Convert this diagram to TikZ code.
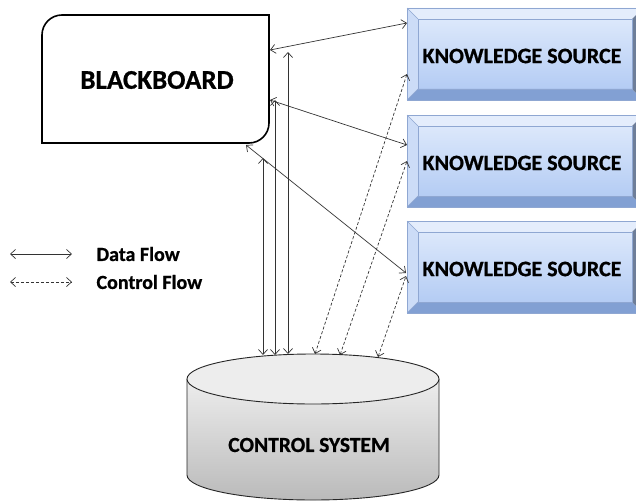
\documentclass[tikz,border=0pt]{standalone}
\usepackage{fontspec}
\setmainfont{Carlito}[BoldFeatures={FakeBold=0.8}]
\usetikzlibrary{arrows.meta}
\definecolor{ksface1}{HTML}{DCE8FB}
\definecolor{ksface2}{HTML}{B4CCF4}
\definecolor{kstopc}{HTML}{E4EDFC}
\definecolor{ksleftc}{HTML}{CCDCF7}
\definecolor{ksbotc}{HTML}{82A0D3}
\definecolor{ksrightc}{HTML}{6E7E99}
\definecolor{ksedge}{HTML}{8FA7D2}
\definecolor{flowc}{HTML}{333333}
\tikzset{
  bbshape/.style={draw=black, line width=1.6pt, fill=white},
  bbtext/.style={font=\bfseries\fontsize{27}{30}\selectfont},
  kstext/.style={font=\bfseries\fontsize{22}{26}\selectfont},
  cstext/.style={font=\bfseries\fontsize{21.5}{24}\selectfont},
  legtext/.style={font=\bfseries\fontsize{20}{24}\selectfont, anchor=west},
  dataflow/.style={draw=flowc, line width=0.7pt, {Straight Barb[length=5pt,width=9pt]}-{Straight Barb[length=5pt,width=9pt]}},
  ctrlflow/.style={dataflow, dash pattern=on 3pt off 2pt},
  cylline/.style={draw=black!85, line width=0.9pt},
}
\begin{document}
\begin{tikzpicture}[x=1pt,y=-1pt]
\useasboundingbox (0,0) rectangle (636,500);

% Blackboard
\draw[bbshape] (42,35) arc[start angle=180,end angle=270,radius=20] -- (269,15) -- (269,123)
  arc[start angle=0,end angle=90,radius=20] -- (42,143) -- cycle;
\node[bbtext] (bb) at (157,80) {BLACKBOARD};

% Knowledge sources
\foreach \t/\n in {8/1,115/2,221/3} {
  \shade[top color=ksface1, bottom color=ksface2] (418,\t+11) rectangle (632,\t+81);
  \fill[kstopc] (407,\t) -- (643,\t) -- (632,\t+11) -- (418,\t+11) -- cycle;
  \fill[ksleftc] (407,\t) -- (418,\t+11) -- (418,\t+81) -- (407,\t+92) -- cycle;
  \fill[ksbotc] (407,\t+92) -- (418,\t+81) -- (632,\t+81) -- (643,\t+92) -- cycle;
  \fill[ksrightc] (643,\t) -- (632,\t+11) -- (632,\t+81) -- (643,\t+92) -- cycle;
  \draw[ksedge, line width=0.6pt] (418,\t+11) rectangle (632,\t+81);
  \draw[ksedge, line width=0.6pt] (407,\t) -- (418,\t+11) (407,\t+92) -- (418,\t+81);
  \draw[ksedge, line width=0.8pt] (407,\t) rectangle (643,\t+92);
  \node[kstext] (ks\n) at (522,\t+48) {KNOWLEDGE SOURCE};
}

% Control system cylinder
\shade[top color=white!93!black, bottom color=white!73!black]
  (187,379) -- (187,475) arc[start angle=180,end angle=0,x radius=126,y radius=25] -- (439,379) -- cycle;
\draw[cylline] (187,379) -- (187,475) arc[start angle=180,end angle=0,x radius=126,y radius=25] -- (439,379);
\draw[cylline, fill=white!93!black] (313,379) ellipse[x radius=126, y radius=25];
\node[cstext] (cs) at (309,445) {CONTROL SYSTEM};

% connector end points
\coordinate (b1) at (270,50);
\coordinate (b2) at (270,100);
\coordinate (b3) at (246,145);
\coordinate (k1) at (407,23);
\coordinate (k2) at (407,145);
\coordinate (k3) at (406,273);
\coordinate (v1t) at (263,158);
\coordinate (v1b) at (263,355);
\coordinate (v2t) at (275,100);
\coordinate (v2b) at (275,355);
\coordinate (v3t) at (288,52);
\coordinate (v3b) at (288,354);
\coordinate (c1b) at (315,354);
\coordinate (c1t) at (407,74);
\coordinate (c2b) at (340,355);
\coordinate (c2t) at (407,161);
\coordinate (c3b) at (378,357);
\coordinate (c3t) at (406,276);

\draw[dataflow] (b1) -- (k1);
\draw[dataflow] (b2) -- (k2);
\draw[dataflow] (b3) -- (k3);
\draw[dataflow] (v1t) -- (v1b);
\draw[dataflow] (v2t) -- (v2b);
\draw[dataflow] (v3t) -- (v3b);
\draw[ctrlflow] (c1b) -- (c1t);
\draw[ctrlflow] (c2b) -- (c2t);
\draw[ctrlflow] (c3b) -- (c3t);

% legend
\coordinate (l1a) at (10,254);
\coordinate (l1b) at (72,254);
\coordinate (l2a) at (10,282);
\coordinate (l2b) at (72,282);
\draw[dataflow] (l1a) -- (l1b);
\draw[ctrlflow] (l2a) -- (l2b);
\node[legtext] (ldata) at (93,254) {Data Flow};
\node[legtext] (lctrl) at (93,282) {Control Flow};
\end{tikzpicture}
\end{document}
